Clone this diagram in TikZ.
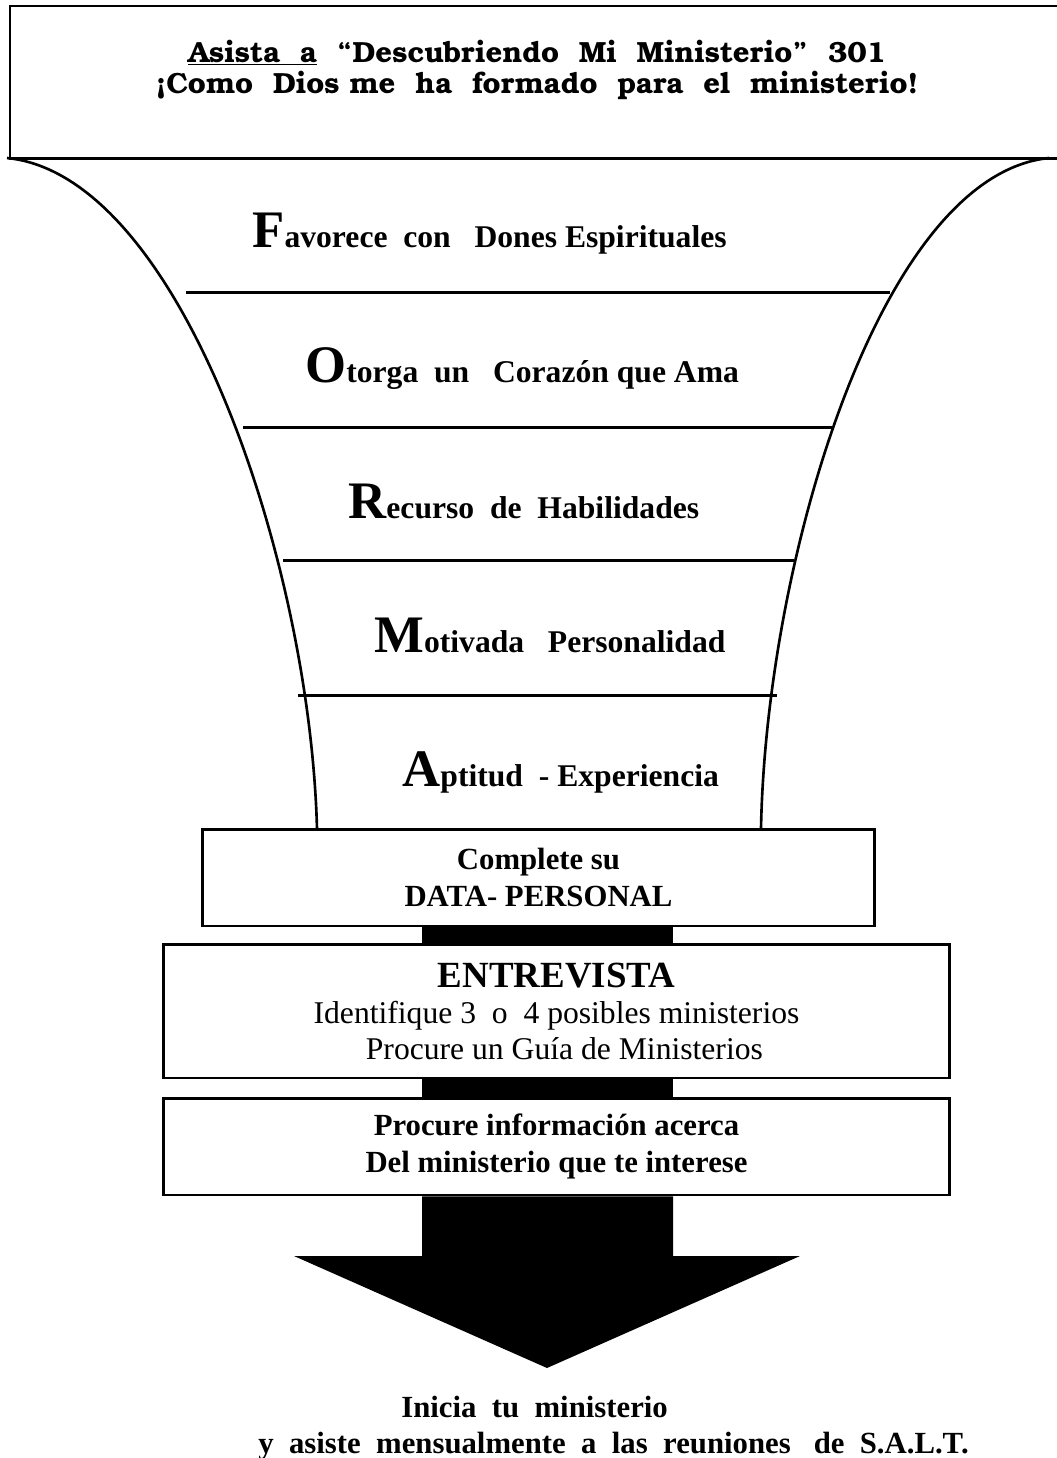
\documentclass[tikz,border=0pt]{standalone}
\usepackage{fontspec}
\setmainfont{Liberation Serif}
\newfontfamily\bookfont{texgyrebonum-bold.otf}
\newcommand{\capletter}[1]{{\fontsize{30}{30}\selectfont #1}}

\begin{document}
\begin{tikzpicture}[x=0.02cm,y=-0.02cm]

\tikzstyle{box}=[draw=black, line width=1.7pt, align=center, inner sep=0pt]
\tikzstyle{layer}=[anchor=base west, inner sep=0pt, font=\bfseries\fontsize{18}{18}\selectfont]
\tikzstyle{heading}=[anchor=base, inner sep=0pt, font=\bookfont\fontsize{16.6}{16.6}\selectfont]
\tikzstyle{closing}=[anchor=base west, inner sep=0pt, font=\bfseries\fontsize{17.5}{17.5}\selectfont]
\tikzstyle{rim}=[line width=1.5pt]

\useasboundingbox (0,0) rectangle (1057,1458);

\draw[line width=1.7pt] (1070,158) -- (10,158) -- (10,6) -- (1070,6);
\node[heading] (title) at (537,62) {\underline{Asista\ \ a}\ \ “Descubriendo\ \ Mi\ \ Ministerio”\ \ 301};
\node[heading] (subtitle) at (537,93) {¡Como\ \ Dios me\ \ ha\ \ formado\ \ para\ \ el\ \ ministerio!};

\draw[rim] (7,158) .. controls (180,175) and (310,560) .. (317,829);
\draw[rim] (1049,158) .. controls (880,175) and (766,560) .. (761,829);
\foreach \y/\l/\r in {292/186/890, 427/243/832, 560/283/794, 695/298/777}
	\draw[line width=1.7pt] (\l,\y) -- (\r,\y);

\node[layer] (gifts) at (252,247) {\capletter{F}avorece\ \ con\ \ \ Dones Espirituales};
\node[layer] (heart) at (305,382) {\capletter{O}torga\ \ un\ \ \ Corazón que Ama};
\node[layer] (skills) at (348,518) {\capletter{R}ecurso\ \ de\ \ Habilidades};
\node[layer] (personality) at (374,652) {\capletter{M}otivada\ \ \ Personalidad};
\node[layer] (experience) at (402,786) {\capletter{A}ptitud\ \ - Experiencia};

\node[box, minimum width=13.46cm, minimum height=1.94cm, font=\bfseries\fontsize{17.5}{21}\selectfont] (data) at (538.5,877.5) {Complete su\\DATA- PERSONAL};
\node[box, minimum width=15.74cm, minimum height=2.68cm, font=\fontsize{18}{20.5}\selectfont] (interview) at (556.5,1011) {{\bfseries\fontsize{21}{21}\selectfont ENTREVISTA}\\Identifique 3\ \ o\ \ 4 posibles ministerios\\\ \ Procure un Guía de Ministerios};
\node[box, minimum width=15.74cm, minimum height=1.94cm, font=\bfseries\fontsize{17.5}{21}\selectfont] (info) at (556.5,1146.5) {Procure información acerca\\Del ministerio que te interese};

\coordinate (barl) at (422,0);
\coordinate (barr) at (673,0);
\fill (data.south -| barl) rectangle (interview.north -| barr);
\fill (interview.south -| barl) rectangle (info.north -| barr);
\fill (info.south -| barl) -- (422,1256) -- (294,1256) -- (547,1368) -- (800,1256) -- (673,1256) -- (info.south -| barr) -- cycle;

\node[closing] (start) at (401,1417) {Inicia\ \ tu\ \ ministerio};
\node[closing] (meetings) at (258,1453) {y\ \ asiste\ \ mensualmente\ \ a\ \ las\ \ reuniones\ \ \ de\ \ S.A.L.T.};
\end{tikzpicture}
\end{document}
